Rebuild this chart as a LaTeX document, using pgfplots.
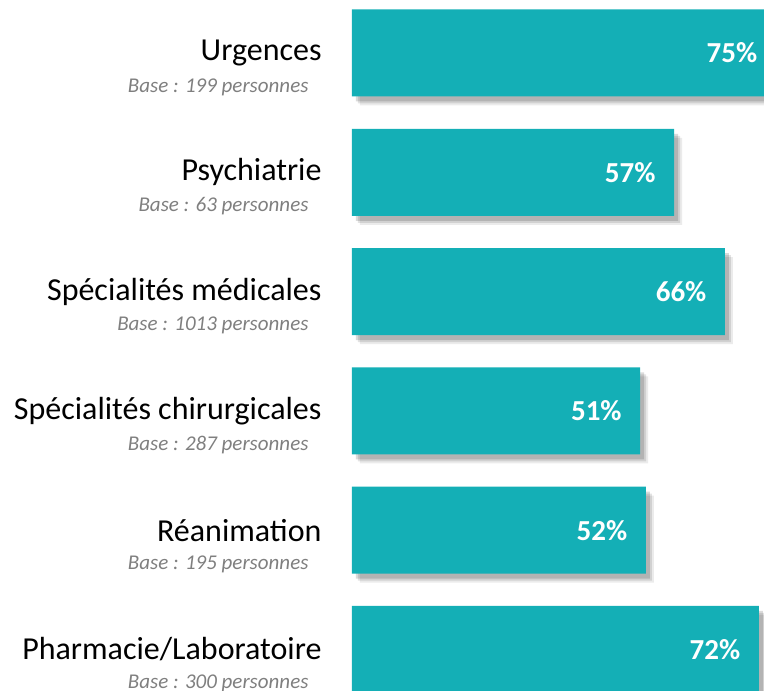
\documentclass[border=0pt]{standalone}
\usepackage{fontspec}
\setmainfont{Carlito}
\usepackage{pgfplots}
\usepackage{pgfplotstable}
\pgfplotsset{compat=1.18}
\definecolor{barteal}{HTML}{14AFB6}
\definecolor{subgray}{HTML}{7F7F7F}
\pgfplotstableread{
y val
0 75
1 57
2 66
3 51
4 52
5 72
}\datatable
\begin{document}
\begin{tikzpicture}
\begin{axis}[
  at={(352pt,0pt)}, anchor=south west,
  scale only axis, width=412pt, height=691pt,
  xmin=0, xmax=72.92,
  y dir=reverse, ymin=-0.444, ymax=5.348,
  hide axis, clip=false,
  xbar, bar width=87pt, bar shift=0pt,
  /pgf/number format/assume math mode=true,
]
\addplot[xbar, bar shift=0pt, fill=black, draw=none, opacity=0.08, xshift=8pt, yshift=-9pt] table[x=val,y=y]{\datatable};
\addplot[xbar, bar shift=0pt, fill=black, draw=none, opacity=0.11, xshift=6pt, yshift=-7pt] table[x=val,y=y]{\datatable};
\addplot[xbar, bar shift=0pt, fill=black, draw=none, opacity=0.14, xshift=4pt, yshift=-5pt] table[x=val,y=y]{\datatable};
\addplot[xbar, bar shift=0pt, fill=barteal, draw=none,
  nodes near coords={\pgfmathprintnumber{\pgfplotspointmeta}\%},
  point meta=x,
  every node near coord/.append style={anchor=east, xshift=-15pt, text=white, font=\fontsize{29}{32}\selectfont\bfseries},
] table[x=val,y=y]{\datatable};
\tikzset{mainlab/.style={anchor=east, xshift=-27pt, font=\fontsize{32}{36}\selectfont, text=black},
         sublab/.style={anchor=east, xshift=-40pt, yshift=-34pt, font=\fontsize{21}{24}\selectfont\itshape, text=subgray}}
\node[mainlab] at (axis cs:0,0) {Urgences};
\node[sublab] at (axis cs:0,0) {Base : 199 personnes};
\node[mainlab] at (axis cs:0,1) {Psychiatrie};
\node[sublab] at (axis cs:0,1) {Base : 63 personnes};
\node[mainlab] at (axis cs:0,2) {Spécialités médicales};
\node[sublab] at (axis cs:0,2) {Base : 1013 personnes};
\node[mainlab] at (axis cs:0,3) {Spécialités chirurgicales};
\node[sublab] at (axis cs:0,3) {Base : 287 personnes};
\node[mainlab] at (axis cs:0,4) {Réanimation};
\node[sublab] at (axis cs:0,4) {Base : 195 personnes};
\node[mainlab] at (axis cs:0,5) {Pharmacie/Laboratoire};
\node[sublab] at (axis cs:0,5) {Base : 300 personnes};
\end{axis}
\pgfresetboundingbox
\useasboundingbox (0pt,0pt) rectangle (764pt,691pt);
\end{tikzpicture}
\end{document}
